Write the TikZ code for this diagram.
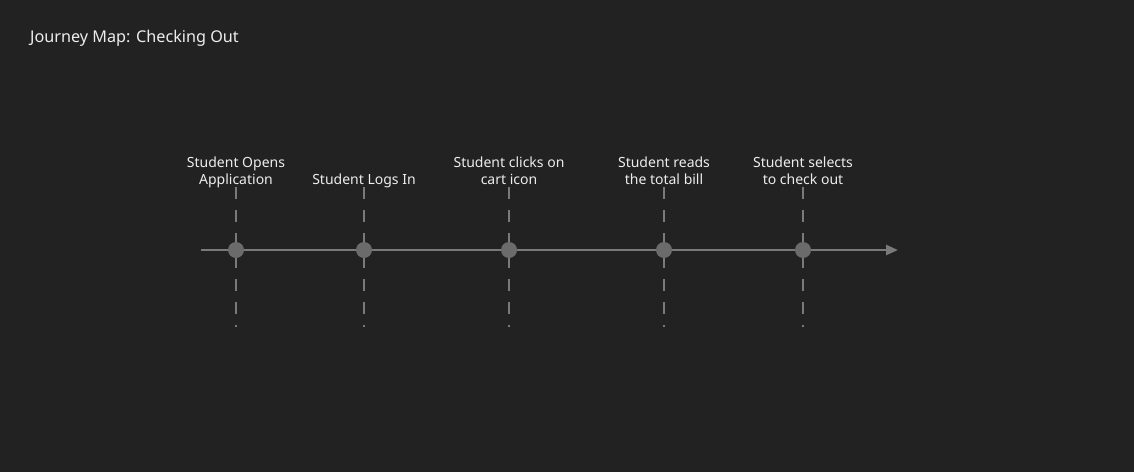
\documentclass[tikz,border=0pt]{standalone}
\usepackage{fontspec}
\setmainfont{Noto Sans}
\usetikzlibrary{arrows.meta}
\definecolor{bg}{HTML}{222222}
\definecolor{axis}{HTML}{7A7A7A}
\definecolor{dotc}{HTML}{6B6B6B}
\definecolor{txt}{HTML}{EDEDED}
\begin{document}
\begin{tikzpicture}[x=1pt,y=-1pt,
  guide/.style={axis, line width=2.6pt, dash pattern=on 12pt off 11pt},
  stage/.style={circle, fill=dotc, minimum size=16pt, inner sep=0pt},
  caption/.style={text=txt, font=\fontsize{14}{17}\selectfont, align=center, inner sep=0pt},
  timeline/.style={axis, line width=2.6pt, -{Triangle[length=12pt,width=10pt]}}]
  \fill[bg] (0,0) rectangle (1134,472);
  \useasboundingbox (0,0) rectangle (1134,472);
  \node[text=txt, font=\fontsize{16.2}{19}\selectfont, anchor=base west, inner sep=0pt] (title) at (30,42) {Journey Map: Checking Out};
  % timeline axis
  \coordinate (start) at (201,250);
  \coordinate (end) at (898,250);
  \draw[timeline] (start) -- (end);
  % stages
  \foreach \name/\x in {s1/236, s2/364, s3/509, s4/664, s5/803}{
    \coordinate (\name top) at (\x,187);
    \coordinate (\name bot) at (\x,327);
    \draw[guide] (\name top) -- (\name bot);
    \node[stage] (\name) at (\x,250) {};
  }
  \node[caption, anchor=base] (l1) at (236,167) {Student Opens};
  \node[caption, anchor=base] (l1b) at (236,184) {Application};
  \node[caption, anchor=base] (l2) at (364,184) {Student Logs In};
  \node[caption, anchor=base] (l3) at (509,167) {Student clicks on};
  \node[caption, anchor=base] (l3b) at (509,184) {cart icon};
  \node[caption, anchor=base] (l4) at (664,167) {Student reads};
  \node[caption, anchor=base] (l4b) at (664,184) {the total bill};
  \node[caption, anchor=base] (l5) at (803,167) {Student selects};
  \node[caption, anchor=base] (l5b) at (803,184) {to check out};
\end{tikzpicture}
\end{document}
